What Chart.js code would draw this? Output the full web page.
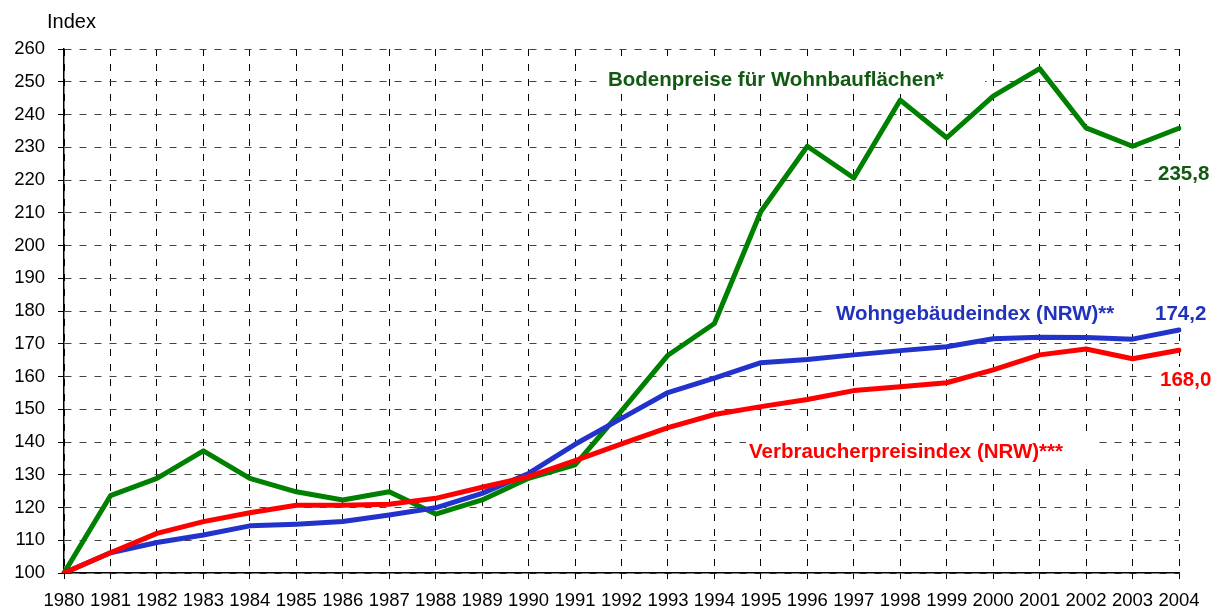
<!DOCTYPE html>
<html>
<head>
<meta charset="utf-8">
<script src="https://cdn.jsdelivr.net/npm/chart.js@4"></script>
<style>
  body { margin: 0; background: #fff; }
  #wrap { width: 1221px; height: 610px; }
</style>
</head>
<body>
<div id="wrap"><canvas id="chart" width="1221" height="610"></canvas></div>
<script>
// Jahre 1980 - 2004, Index 1980 = 100
const years = ["1980", "1981", "1982", "1983", "1984", "1985", "1986", "1987", "1988", "1989",
    "1990", "1991", "1992", "1993", "1994", "1995", "1996", "1997", "1998", "1999",
    "2000", "2001", "2002", "2003", "2004"];

const bodenpreise = [100, 123.6, 128.9, 137.3, 128.9, 124.8, 122.3, 124.8, 118.0, 122.3,
    128.9, 133.0, 149.5, 166.5, 176.2, 210.4, 230.3, 220.6, 244.4, 232.9,
    245.6, 254.0, 235.9, 230.3, 235.8];

const wohngebaeude = [100, 106.2, 109.3, 111.6, 114.4, 114.9, 115.7, 117.7, 119.9, 124.3,
    130.4, 139.3, 147.2, 155.1, 159.5, 164.2, 165.2, 166.6, 167.9, 169.1,
    171.5, 172.0, 171.9, 171.4, 174.2];

const verbraucher = [100, 106.2, 112.1, 115.7, 118.4, 120.7, 120.7, 121.0, 122.8, 126.2,
    129.4, 134.3, 139.4, 144.4, 148.4, 150.8, 153.0, 155.7, 156.9, 158.1,
    162.0, 166.6, 168.4, 165.4, 168.0];

const yMin = 100, yMax = 260, yStep = 10;

const FONT = "Arial, 'Liberation Sans', sans-serif";

function fmt(v) {
    return v.toFixed(1).replace(".", ",");
}

// Textfelder: weisser Hintergrund deckt das Gitter ab
const labels = [
    { text: "Bodenpreise für Wohnbauflächen*", color: "#115a11", x: 608, y: 86, box: [600, 64, 385, 28] },
    { text: fmt(bodenpreise[bodenpreise.length - 1]), color: "#115a11", x: 1158, y: 180, box: [1152, 160, 69, 26] },
    { text: "Wohngebäudeindex (NRW)**", color: "#2233bb", x: 836, y: 320, box: [827, 302, 394, 24] },
    { text: fmt(wohngebaeude[wohngebaeude.length - 1]), color: "#2233bb", x: 1155, y: 320, box: null },
    { text: fmt(verbraucher[verbraucher.length - 1]), color: "#ff0000", x: 1160, y: 386, box: [1155, 367, 66, 30] },
    { text: "Verbraucherpreisindex (NRW)***", color: "#ff0000", x: 749, y: 458, box: [746, 437, 346, 29] }
];

const labelPlugin = {
    id: "seriesLabels",
    beforeDatasetsDraw(chart) {
        const ctx = chart.ctx;
        ctx.save();
        ctx.fillStyle = "#fff";
        labels.forEach(l => {
            if (l.box) ctx.fillRect(l.box[0], l.box[1], l.box[2], l.box[3]);
        });
        ctx.restore();
    },
    afterDatasetsDraw(chart) {
        const ctx = chart.ctx;
        ctx.save();
        ctx.textBaseline = "alphabetic";

        ctx.font = "20px " + FONT;
        ctx.fillStyle = "#000";
        ctx.fillText("Index", 47, 28);

        ctx.font = "bold 20.5px " + FONT;
        labels.forEach(l => {
            ctx.fillStyle = l.color;
            ctx.fillText(l.text, l.x, l.y);
        });
        ctx.restore();
    }
};

new Chart(document.getElementById("chart"), {
    type: "line",
    data: {
        labels: years,
        datasets: [
            {
                label: "Verbraucherpreisindex (NRW)***",
                data: verbraucher,
                borderColor: "#ff0000",
                borderWidth: 5,
                order: 0
            },
            {
                label: "Wohngebäudeindex (NRW)**",
                data: wohngebaeude,
                borderColor: "#2233cc",
                borderWidth: 5,
                order: 1
            },
            {
                label: "Bodenpreise für Wohnbauflächen*",
                data: bodenpreise,
                borderColor: "#008000",
                borderWidth: 5,
                order: 2
            }
        ]
    },
    options: {
        responsive: false,
        animation: false,
        devicePixelRatio: 1,
        layout: { padding: { top: 49, right: 42, left: 0, bottom: 0 } },
        elements: {
            point: { radius: 0 },
            line: { tension: 0, borderJoinStyle: "round", borderCapStyle: "round" }
        },
        plugins: {
            legend: { display: false },
            tooltip: { enabled: false }
        },
        scales: {
            x: {
                offset: false,
                grid: {
                    color: "#000",
                    lineWidth: 1,
                    tickLength: 6,
                    tickColor: "#000",
                    tickBorderDash: []
                },
                border: { display: true, color: "#000", width: 1.5, dash: [7, 8] },
                ticks: {
                    color: "#000",
                    font: { size: 18.5, family: FONT },
                    padding: 11,
                    maxRotation: 0,
                    autoSkip: false
                },
                afterFit(scale) { scale.height = 37; }
            },
            y: {
                min: yMin,
                max: yMax,
                grid: {
                    color: "#444",
                    lineWidth: 1,
                    tickLength: 6,
                    tickColor: "#000",
                    tickBorderDash: []
                },
                border: { display: true, color: "#000", width: 1.5, dash: [7, 8] },
                ticks: {
                    stepSize: yStep,
                    color: "#000",
                    font: { size: 18.5, family: FONT },
                    padding: 13
                },
                afterFit(scale) { scale.width = 64; }
            }
        }
    },
    plugins: [labelPlugin]
});
</script>
</body>
</html>
